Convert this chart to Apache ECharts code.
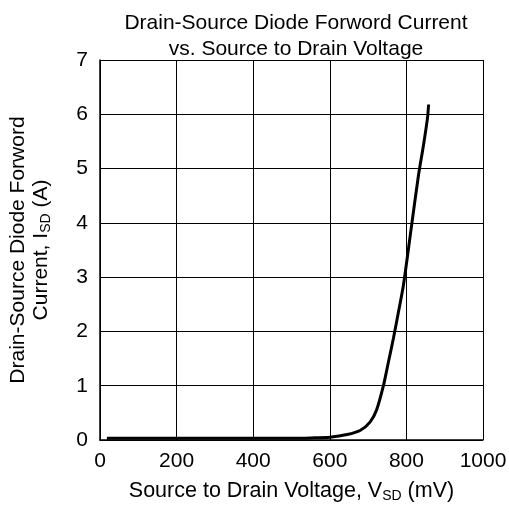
<!DOCTYPE html>
<html>
<head>
<meta charset="utf-8">
<script src="https://cdn.jsdelivr.net/npm/echarts@6/dist/echarts.min.js"></script>
<style>
  html, body { margin: 0; padding: 0; background: #fff; }
  #chart { width: 509px; height: 507px; }
</style>
</head>
<body>
<div id="chart"></div>
<script>
// forward voltage (mV) and diode current (A)
var vsd = [18, 100, 200, 300, 400, 500, 560, 600, 645, 680, 705, 722, 740, 752, 766, 779, 792, 812, 831, 845, 855, 858];
var isd = [0.03, 0.03, 0.03, 0.03, 0.03, 0.03, 0.04, 0.05, 0.1, 0.18, 0.33, 0.55, 1.0, 1.4, 1.87, 2.35, 2.84, 3.87, 4.85, 5.45, 5.93, 6.18];

var font = 'Liberation Sans, Arial, sans-serif';

var chart = echarts.init(document.getElementById('chart'));
chart.setOption({
  animation: false,
  backgroundColor: '#fff',
  title: {
    text: 'Drain-Source Diode Forword Current\nvs. Source to Drain Voltage',
    left: 291,
    top: 5,
    textAlign: 'center',
    textStyle: { fontFamily: font, fontSize: 21, fontWeight: 'normal', color: '#000', lineHeight: 26 }
  },
  grid: { left: 100, right: 26, top: 60, bottom: 67, outerBoundsMode: 'none', containLabel: false },
  xAxis: {
    type: 'value',
    min: 0, max: 1000, interval: 200,
    name: '{a|Source to Drain Voltage, V}{s|SD}{a| (mV)}',
    nameLocation: 'middle',
    nameGap: 40,
    nameTextStyle: {
      rich: {
        a: { fontFamily: font, fontSize: 21.5, color: '#000' },
        s: { fontFamily: font, fontSize: 14, color: '#000', verticalAlign: 'bottom', padding: [9, 0, 0, 0] }
      }
    },
    axisLine: { lineStyle: { color: '#000', width: 1.5 } },
    axisTick: { show: false },
    axisLabel: { fontFamily: font, fontSize: 21, color: '#000', margin: 11, formatter: function (v) { return String(v); } },
    splitLine: { show: true, lineStyle: { color: '#000', width: 1 } }
  },
  yAxis: {
    type: 'value',
    min: 0, max: 7, interval: 1,
    name: '{a|Drain-Source Diode Forword}\n{a|Current, I}{s|SD}{a| (A)}',
    nameLocation: 'middle',
    nameGap: 47,
    nameRotate: 90,
    nameTextStyle: {
      lineHeight: 23,
      rich: {
        a: { fontFamily: font, fontSize: 21, color: '#000', lineHeight: 23 },
        s: { fontFamily: font, fontSize: 14, color: '#000', lineHeight: 23, verticalAlign: 'bottom' }
      }
    },
    axisLine: { show: true, lineStyle: { color: '#000', width: 1.5 } },
    axisTick: { show: false },
    axisLabel: { fontFamily: font, fontSize: 21, color: '#000', margin: 12 },
    splitLine: { show: true, lineStyle: { color: '#000', width: 1 } }
  },
  series: [{
    type: 'line',
    data: vsd.map(function (v, i) { return [v, isd[i]]; }),
    smooth: 0.25,
    showSymbol: false,
    lineStyle: { color: '#000', width: 3 }
  }]
});
</script>
</body>
</html>
